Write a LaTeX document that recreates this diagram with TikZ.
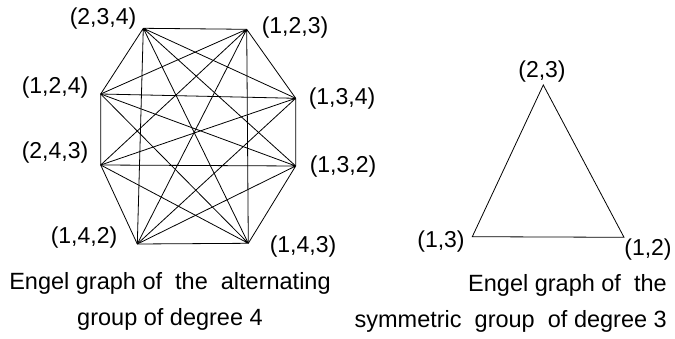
\documentclass[tikz,border=0pt]{standalone}
\usepackage{fontspec}
\setmainfont{Liberation Sans}
\usepackage{tikz}
\usetikzlibrary{positioning}

\begin{document}
\begin{tikzpicture}[x=1pt,y=-1pt,
    edge/.style={line width=0.8pt},
    lbl/.style={font=\fontsize{23}{27}\selectfont,inner sep=0pt},
    capt/.style={font=\fontsize{23.5}{36}\selectfont,inner sep=0pt}]
  \useasboundingbox (0,0) rectangle (675,339);
  % octagon of 3-cycles
  \coordinate (v234) at (143.3,28.3);
  \coordinate (v123) at (246.7,29.3);
  \coordinate (v134) at (295.7,98.3);
  \coordinate (v132) at (295.7,166);
  \coordinate (v143) at (248.3,243.3);
  \coordinate (v142) at (137.3,244);
  \coordinate (v243) at (100.7,165);
  \coordinate (v124) at (100.7,94);
  \node[lbl] (l234) at (103,19)  {(2,3,4)};
  \node[lbl] (l123) at (295,28)  {(1,2,3)};
  \node[lbl] (l124) at (55,88)   {(1,2,4)};
  \node[lbl] (l134) at (342,99)  {(1,3,4)};
  \node[lbl] (l243) at (55,153)  {(2,4,3)};
  \node[lbl] (l132) at (343,167) {(1,3,2)};
  \node[lbl] (l142) at (84,238)  {(1,4,2)};
  \node[lbl] (l143) at (303,247) {(1,4,3)};
  \draw[edge] (v234) -- (v123) (v234) -- (v134) (v234) -- (v132)
              (v234) -- (v143) (v234) -- (v142) (v234) -- (v124);
  \draw[edge] (v123) -- (v134) (v123) -- (v143) (v123) -- (v142)
              (v123) -- (v243) (v123) -- (v124);
  \draw[edge] (v134) -- (v132) (v134) -- (v142) (v134) -- (v243)
              (v134) -- (v124);
  \draw[edge] (v132) -- (v143) (v132) -- (v142) (v132) -- (v243)
              (v132) -- (v124);
  \draw[edge] (v143) -- (v142) (v143) -- (v243) (v143) -- (v124);
  \draw[edge] (v142) -- (v243) (v243) -- (v124);
  % triangle of transpositions
  \coordinate (t23) at (543.3,85);
  \coordinate (t13) at (472.3,236.7);
  \coordinate (t12) at (624,237.3);
  \node[lbl] (l23) at (542,72)  {(2,3)};
  \node[lbl] (l13) at (441,242) {(1,3)};
  \node[lbl] (l12) at (648,250) {(1,2)};
  \draw[edge] (t23) -- (t13) -- (t12) -- cycle;
  % captions
  \node[capt,align=center] (capA) at (170,301)
       {Engel graph of \ the \ alternating\\group of degree 4};
  \node[capt,align=right,anchor=east] (capS) at (667,303)
       {Engel graph of \ the\\symmetric \ group \ of degree 3};
\end{tikzpicture}
\end{document}
